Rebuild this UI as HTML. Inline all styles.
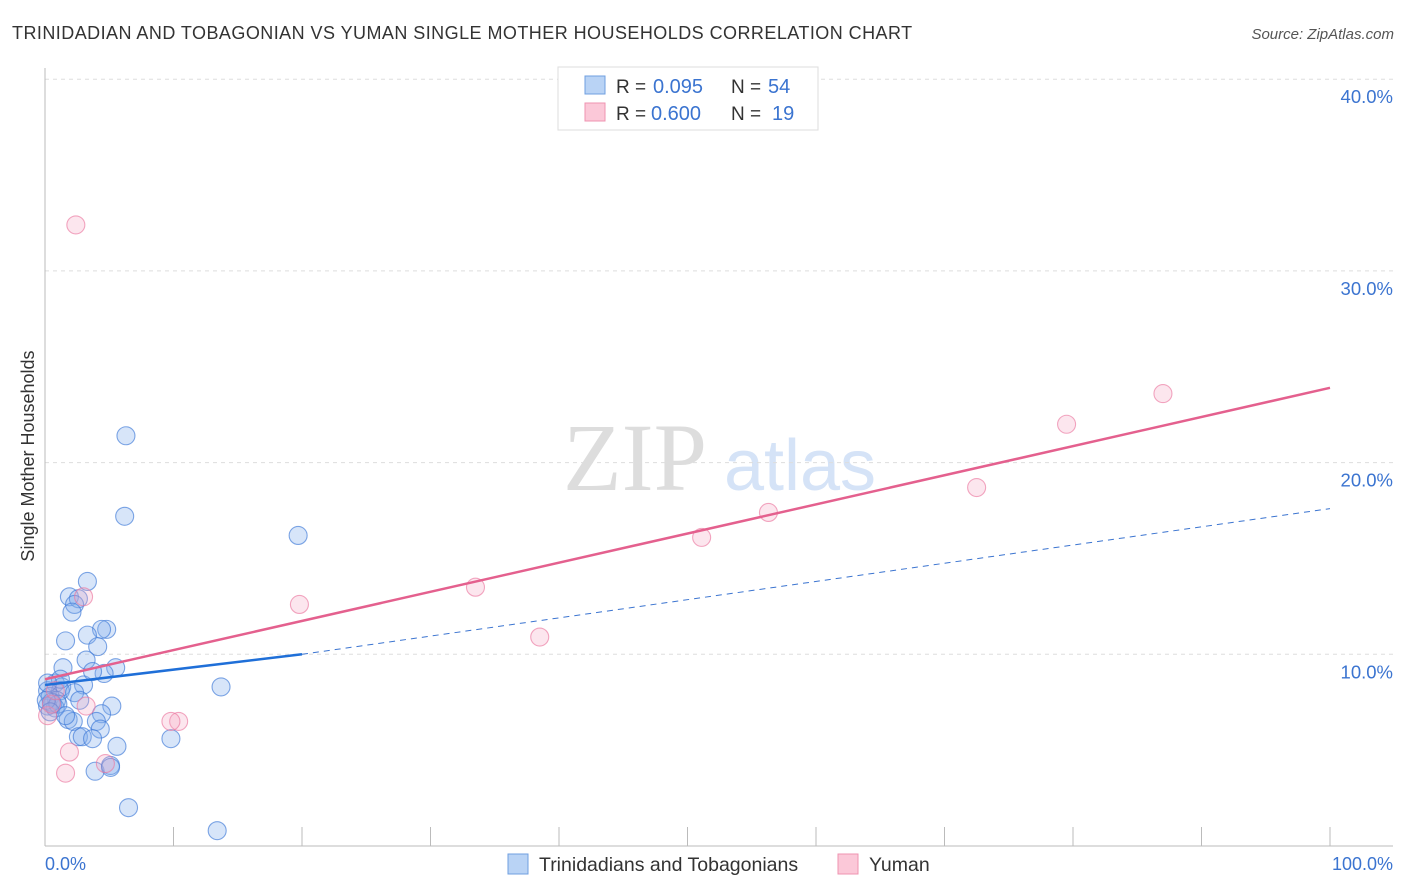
<!DOCTYPE html>
<html><head><meta charset="utf-8"><style>
body{margin:0;background:#fff;font-family:"Liberation Sans",sans-serif}
svg{display:block}
</style></head><body>
<svg id="chart" width="1406" height="892">
<text x="12" y="39" font-size="18" fill="#333" letter-spacing="0.45">TRINIDADIAN AND TOBAGONIAN VS YUMAN SINGLE MOTHER HOUSEHOLDS CORRELATION CHART</text>
<text x="1394" y="39" font-size="15" fill="#555" font-style="italic" text-anchor="end">Source: ZipAtlas.com</text>
<g>
<text x="635" y="490" font-family="Liberation Serif" font-size="96" fill="#ddd" text-anchor="middle">ZIP</text>
<text x="800" y="490" font-size="72" fill="#d5e3f7" text-anchor="middle">atlas</text>
</g>
<g id="grid"></g>
<g id="axes"></g>
<g id="pts"></g>
<g id="lines"></g>
<text transform="translate(34,456) rotate(-90)" font-size="18" fill="#333" text-anchor="middle">Single Mother Households</text>
<text x="45" y="870" font-size="18" fill="#3b74d0">0.0%</text>
<text x="1393" y="870" font-size="18" fill="#3b74d0" text-anchor="end">100.0%</text>
<g>
<rect x="558" y="67" width="260" height="63" fill="#fff" stroke="#ddd"/>
<rect x="585" y="76" width="20" height="18" fill="#b9d3f5" stroke="#6f9fe0"/>
<rect x="585" y="103" width="20" height="18" fill="#fbc8d8" stroke="#ef93b0"/>
<text x="616" y="93" font-size="19" fill="#333">R =</text>
<text x="653" y="93" font-size="20" fill="#3b74d0">0.095</text>
<text x="731" y="93" font-size="19" fill="#333">N =</text>
<text x="768" y="93" font-size="20" fill="#3b74d0">54</text>
<text x="616" y="120" font-size="19" fill="#333">R =</text>
<text x="651" y="120" font-size="20" fill="#3b74d0">0.600</text>
<text x="731" y="120" font-size="19" fill="#333">N =</text>
<text x="772" y="120" font-size="20" fill="#3b74d0">19</text>
</g>
<g>
<rect x="508" y="854" width="20" height="20" fill="#b9d3f5" stroke="#6f9fe0"/>
<text x="539" y="871" font-size="19.5" fill="#333">Trinidadians and Tobagonians</text>
<rect x="838" y="854" width="20" height="20" fill="#fbc8d8" stroke="#ef93b0"/>
<text x="869" y="871" font-size="19.5" fill="#333">Yuman</text>
</g>
</svg>
<script>
const yTicks=[10,20,30,40];
const yTickLabels=["10.0%","20.0%","30.0%","40.0%"];
const xTicks=[0,10,20,30,40,50,60,70,80,90,100];
const blueX=[6.3,6.2,19.7,3.3,1.9,2.6,2.3,2.1,4.8,4.4,3.3,1.6,4.1,3.2,1.4,5.5,4.6,13.7,3.0,0.8,1.3,1.2,0.2,2.3,0.4,0.9,2.7,5.2,0.6,0.2,0.8,4.4,1.8,2.2,4.0,4.3,2.6,2.9,3.7,5.6,9.8,3.9,5.1,5.1,6.5,13.4,0.5,1.0,0.1,0.4,1.6,1.2,0.2,3.7];
const blueY=[21.4,17.2,16.2,13.8,13.0,12.9,12.6,12.2,11.3,11.3,11.0,10.7,10.4,9.7,9.3,9.3,9.0,8.3,8.4,8.5,8.3,8.1,8.1,8.0,7.8,7.6,7.6,7.3,7.4,7.3,7.2,6.9,6.6,6.5,6.5,6.1,5.7,5.7,5.6,5.2,5.6,3.9,4.2,4.1,2.0,0.8,7.5,7.4,7.6,7.0,6.8,8.7,8.5,9.1];
const pinkX=[2.4,87.0,79.5,72.5,56.3,51.1,33.5,19.8,3.0,38.5,10.4,9.8,3.2,1.9,4.7,1.6,0.2,0.5,0.8];
const pinkY=[32.4,23.6,22.0,18.7,17.4,16.1,13.5,12.6,13.0,10.9,6.5,6.5,7.3,4.9,4.3,3.8,6.8,7.4,8.1];
const blueTrend=[8.4,10.0,17.6];
const pinkTrend=[8.7,23.9];
const NS="http://www.w3.org/2000/svg";
const X=v=>45+v*12.85, Y=v=>846-v*19.17;
function mk(tag,attrs,parent){const e=document.createElementNS(NS,tag);for(const k in attrs)e.setAttribute(k,attrs[k]);parent.appendChild(e);return e;}
const grid=document.getElementById('grid'),axes=document.getElementById('axes'),pts=document.getElementById('pts'),lines=document.getElementById('lines');
yTicks.forEach((t,i)=>{
 const l=mk('line',{x1:45,x2:1393,y1:Y(t),y2:Y(t),stroke:'#ddd','stroke-dasharray':'4,4'},grid);
 
 
 const tx=mk('text',{x:1393,y:Y(t)+24,'font-size':18.5,fill:'#3b74d0','text-anchor':'end'},grid);
 tx.textContent=yTickLabels[i];
 
 
});
let a=mk('line',{x1:45,x2:45,y1:68,y2:846,stroke:'#bbb'},axes);


a=mk('line',{x1:45,x2:1393,y1:846,y2:846,stroke:'#bbb'},axes);


xTicks.forEach(t=>{
 const l=mk('line',{x1:X(t),x2:X(t),y1:827,y2:846,stroke:'#bbb'},axes);
 
 
});
blueX.forEach((v,i)=>{
 const c=mk('circle',{cx:X(v),cy:Y(blueY[i]),r:9,fill:'rgba(130,175,235,0.32)',stroke:'rgba(60,120,215,0.65)','stroke-width':1.1},pts);
 
 
});
pinkX.forEach((v,i)=>{
 const c=mk('circle',{cx:X(v),cy:Y(pinkY[i]),r:9,fill:'rgba(245,165,195,0.28)',stroke:'rgba(235,120,160,0.65)','stroke-width':1.1},pts);
 
 
});
let ln=mk('line',{x1:X(20),y1:Y(blueTrend[1]),x2:X(100),y2:Y(blueTrend[2]),stroke:'#3b74d0','stroke-width':1,'stroke-dasharray':'6,5'},lines);


ln=mk('line',{x1:X(0),y1:Y(pinkTrend[0]),x2:X(100),y2:Y(pinkTrend[1]),stroke:'#e4608e','stroke-width':2.5},lines);


ln=mk('line',{x1:X(0),y1:Y(blueTrend[0]),x2:X(20),y2:Y(blueTrend[1]),stroke:'#1f6fd8','stroke-width':2.5},lines);


</script>
</body></html>
